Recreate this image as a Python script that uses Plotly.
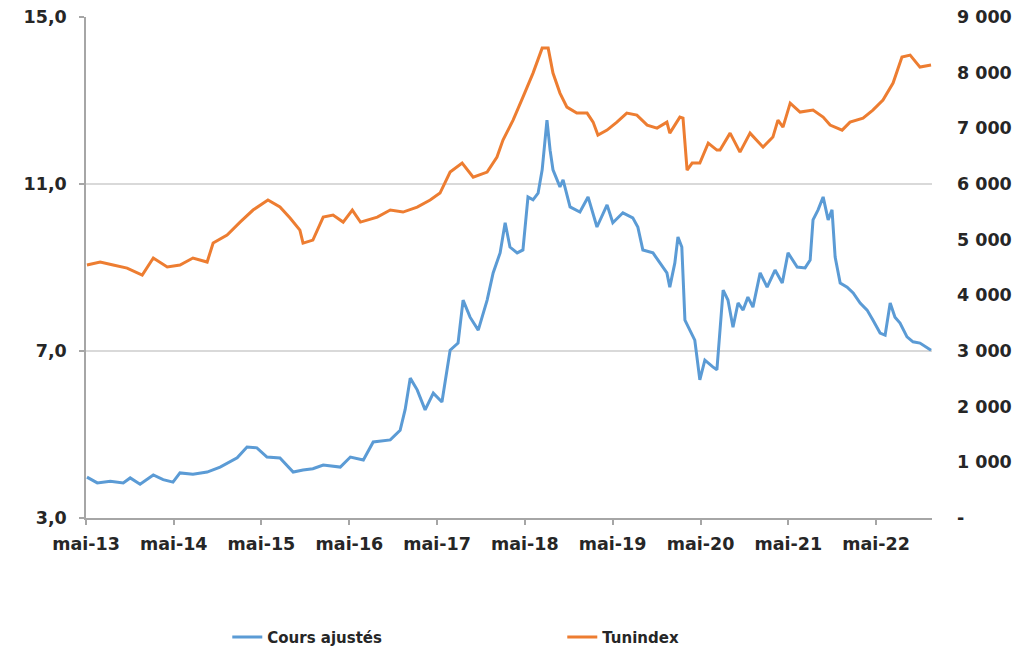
import plotly.graph_objects as go

# ---- Data ----
cours_dates = [
    "2013-05-05", "2013-06-17", "2013-08-10", "2013-10-03", "2013-11-01", "2013-12-12",
    "2014-02-05", "2014-03-18", "2014-04-28", "2014-05-27", "2014-07-20", "2014-09-17",
    "2014-11-10", "2015-01-20", "2015-03-02", "2015-04-12", "2015-05-24", "2015-07-17",
    "2015-09-10", "2015-10-21", "2015-12-01", "2016-01-13", "2016-03-24", "2016-05-05",
    "2016-06-28", "2016-08-08", "2016-10-18", "2016-11-28", "2016-12-19", "2017-01-09",
    "2017-02-07", "2017-03-12", "2017-04-15", "2017-05-21", "2017-06-24", "2017-07-27",
    "2017-08-17", "2017-09-15", "2017-10-19", "2017-11-25", "2017-12-20", "2018-01-18",
    "2018-02-08", "2018-02-28", "2018-03-30", "2018-04-23", "2018-05-14", "2018-06-04",
    "2018-06-25", "2018-07-12", "2018-08-01", "2018-08-14", "2018-08-26", "2018-09-24",
    "2018-10-07", "2018-11-05", "2018-12-16", "2019-01-19", "2019-02-25", "2019-04-08",
    "2019-05-02", "2019-06-13", "2019-07-24", "2019-08-14", "2019-09-04", "2019-10-16",
    "2019-11-14", "2019-12-13", "2019-12-25", "2020-01-15", "2020-01-28", "2020-02-13",
    "2020-02-26", "2020-03-18", "2020-04-07", "2020-04-28", "2020-05-19", "2020-06-21",
    "2020-07-08", "2020-08-03", "2020-08-23", "2020-09-13", "2020-10-04", "2020-10-25",
    "2020-11-14", "2020-12-05", "2021-01-04", "2021-02-02", "2021-03-07", "2021-04-06",
    "2021-04-30", "2021-06-07", "2021-07-10", "2021-07-31", "2021-08-12", "2021-09-02",
    "2021-09-23", "2021-10-14", "2021-10-30", "2021-11-12", "2021-12-03", "2022-01-01",
    "2022-01-26", "2022-02-24", "2022-03-25", "2022-04-18", "2022-05-18", "2022-06-08",
    "2022-06-29", "2022-07-19", "2022-08-09", "2022-09-07", "2022-10-02", "2022-10-31",
    "2022-12-16",
]
cours_values = [
    3.98, 3.84, 3.88, 3.84, 3.96, 3.81,
    4.03, 3.92, 3.86, 4.08, 4.05, 4.10,
    4.22, 4.44, 4.70, 4.68, 4.46, 4.44,
    4.10, 4.15, 4.18, 4.27, 4.22, 4.46,
    4.39, 4.82, 4.87, 5.10, 5.60, 6.35,
    6.07, 5.59, 5.99, 5.78, 7.02, 7.19,
    8.22, 7.81, 7.50, 8.22, 8.87, 9.35,
    10.07, 9.49, 9.35, 9.42, 10.69, 10.62,
    10.78, 11.34, 12.53, 11.81, 11.34, 10.93,
    11.10, 10.45, 10.33, 10.69, 9.97, 10.50,
    10.07, 10.31, 10.19, 9.97, 9.42, 9.35,
    9.11, 8.87, 8.53, 9.11, 9.73, 9.49,
    7.74, 7.50, 7.26, 6.31, 6.78, 6.62,
    6.55, 8.46, 8.22, 7.57, 8.15, 7.98,
    8.29, 8.05, 8.87, 8.53, 8.94, 8.63,
    9.35, 9.01, 8.99, 9.18, 10.14, 10.38,
    10.69, 10.14, 10.38, 9.25, 8.63, 8.53,
    8.39, 8.15, 7.98, 7.74, 7.43, 7.38,
    8.15, 7.81, 7.67, 7.34, 7.22, 7.19,
    7.02,
]

tunindex_dates = [
    "2013-05-05", "2013-06-29", "2013-08-22", "2013-10-19", "2013-12-21", "2014-02-05",
    "2014-04-04", "2014-05-27", "2014-07-20", "2014-09-17", "2014-10-12", "2014-12-09",
    "2015-02-01", "2015-03-27", "2015-05-28", "2015-07-17", "2015-08-28", "2015-10-08",
    "2015-10-21", "2015-12-01", "2016-01-13", "2016-02-23", "2016-04-05", "2016-05-13",
    "2016-06-16", "2016-08-25", "2016-10-18", "2016-12-10", "2017-02-07", "2017-04-02",
    "2017-05-13", "2017-06-24", "2017-08-13", "2017-09-28", "2017-11-25", "2018-01-05",
    "2018-01-30", "2018-02-28", "2018-03-13", "2018-04-23", "2018-06-04", "2018-07-12",
    "2018-08-06", "2018-08-26", "2018-09-24", "2018-10-23", "2018-12-03", "2019-01-15",
    "2019-02-09", "2019-03-01", "2019-04-08", "2019-05-19", "2019-06-29", "2019-08-10",
    "2019-09-22", "2019-11-02", "2019-12-13", "2019-12-25", "2020-02-05", "2020-02-18",
    "2020-03-06", "2020-03-27", "2020-04-28", "2020-06-02", "2020-07-08", "2020-07-21",
    "2020-09-01", "2020-10-12", "2020-11-23", "2021-01-16", "2021-02-26", "2021-03-19",
    "2021-04-09", "2021-05-09", "2021-06-19", "2021-08-12", "2021-09-23", "2021-10-22",
    "2021-12-11", "2022-01-13", "2022-03-08", "2022-04-18", "2022-05-30", "2022-07-11",
    "2022-08-17", "2022-09-20", "2022-10-31", "2022-12-16",
]
tunindex_values = [
    4544, 4598, 4544, 4490, 4364, 4670,
    4508, 4544, 4670, 4598, 4939, 5083,
    5316, 5532, 5712, 5586, 5388, 5172,
    4939, 4993, 5406, 5442, 5316, 5532,
    5316, 5406, 5532, 5496, 5586, 5712,
    5837, 6214, 6376, 6124, 6214, 6484,
    6789, 7022, 7148, 7561, 7992, 8441,
    8441, 7992, 7633, 7381, 7274, 7274,
    7112, 6879, 6968, 7112, 7274, 7238,
    7058, 7004, 7112, 6914, 7202, 7184,
    6250, 6376, 6376, 6735, 6609, 6609,
    6914, 6573, 6914, 6663, 6843, 7148,
    7022, 7453, 7292, 7328, 7202, 7058,
    6968, 7112, 7184, 7328, 7507, 7813,
    8280, 8316, 8100, 8136,
]

x_tick_dates = ["2013-05-01", "2014-05-01", "2015-05-01", "2016-05-01", "2017-05-01",
                "2018-05-01", "2019-05-01", "2020-05-01", "2021-05-01", "2022-05-01"]
x_tick_labels = ["mai-13", "mai-14", "mai-15", "mai-16", "mai-17",
                 "mai-18", "mai-19", "mai-20", "mai-21", "mai-22"]
left_tick_vals = [3, 7, 11, 15]
left_tick_labels = ["3,0", "7,0", "11,0", "15,0"]
right_tick_vals = [0, 1000, 2000, 3000, 4000, 5000, 6000, 7000, 8000, 9000]
right_tick_labels = ["-", "1 000", "2 000", "3 000", "4 000", "5 000",
                     "6 000", "7 000", "8 000", "9 000"]

BLUE = "#5B9BD5"
ORANGE = "#ED7D31"
FONT = "DejaVu Sans, sans-serif"
TXT = "#262626"
AXFONT = dict(family=FONT, size=17.5, color=TXT, weight="bold")

fig = go.Figure()
fig.add_trace(go.Scatter(x=cours_dates, y=cours_values, mode="lines",
                         name="Cours ajustés", line=dict(color=BLUE, width=3),
                         yaxis="y"))
fig.add_trace(go.Scatter(x=tunindex_dates, y=tunindex_values, mode="lines",
                         name="Tunindex", line=dict(color=ORANGE, width=3),
                         yaxis="y2"))

fig.update_layout(
    width=1032, height=648,
    margin=dict(l=86, r=100, t=17, b=130, autoexpand=False),
    paper_bgcolor="white", plot_bgcolor="white",
    font=dict(family=FONT, size=15, color=TXT),
    xaxis=dict(
        type="date", range=["2013-05-01", "2022-12-20"],
        tickvals=x_tick_dates, ticktext=x_tick_labels,
        showgrid=False, showline=True, linecolor="#A6A6A6", linewidth=1.5,
        ticks="outside", ticklen=5, tickcolor="#A6A6A6", tickwidth=1.5,
        ticklabelstandoff=4, automargin=False,
        tickfont=AXFONT, zeroline=False,
    ),
    yaxis=dict(
        range=[3, 15], tickvals=left_tick_vals, ticktext=left_tick_labels,
        showgrid=True, gridcolor="#D9D9D9", gridwidth=1.5,
        showline=True, linecolor="#A6A6A6", linewidth=1.5,
        ticks="outside", ticklen=5, tickcolor="#A6A6A6", tickwidth=1.5,
        ticklabelstandoff=9, automargin=False,
        tickfont=AXFONT, zeroline=False,
    ),
    yaxis2=dict(
        range=[0, 9000], overlaying="y", side="right",
        tickvals=right_tick_vals, ticktext=right_tick_labels,
        showgrid=False, showline=False, ticks="", zeroline=False,
        ticklabelstandoff=24, automargin=False,
        tickfont=AXFONT,
    ),
    legend=dict(
        orientation="h", x=0.167, xanchor="left", y=-0.238, yanchor="middle",
        entrywidth=290, entrywidthmode="pixels",
        font=dict(family=FONT, size=15, color=TXT, weight="bold"),
        bgcolor="rgba(0,0,0,0)",
    ),
    showlegend=True,
)

fig.write_html("out.html", config={"displayModeBar": False},
               post_script="document.body.style.margin='0';")
